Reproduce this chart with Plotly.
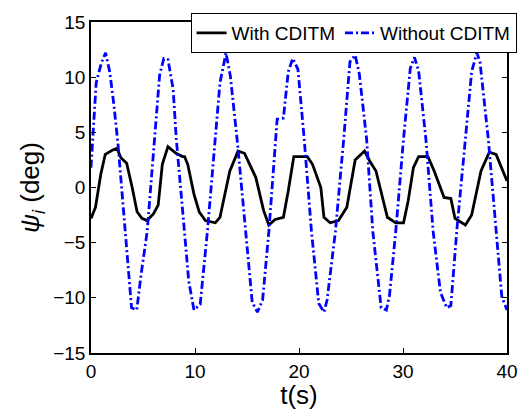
import plotly.graph_objects as go

t_with = [0, 0.43, 0.94, 1.37, 2.09, 2.5, 2.87, 3.43, 3.96, 4.43, 4.9, 5.37, 6.0, 6.46, 6.86, 7.4,
          8.17, 8.8, 9.0, 9.3, 9.9, 10.4, 11.0, 11.95, 12.4, 13.35, 14.14, 14.76, 15.85, 16.6, 17.1,
          17.7, 18.5, 18.97, 19.5, 20.8, 21.3, 22.1, 22.4, 23.0, 23.8, 24.6, 25.4, 26.3, 26.8, 27.4,
          28.5, 29.3, 30.05, 30.5, 31.0, 31.5, 32.4, 33.0, 33.95, 34.6, 35.0, 36.0, 36.6, 37.5,
          38.3, 38.95, 40.0]
psi_with = [-2.8, -1.8, 1.2, 3.0, 3.4, 3.55, 2.7, 2.2, 0.0, -2.2, -2.8, -3.0, -2.4, -1.6, 2.1, 3.7,
            3.1, 2.8, 2.8, 2.1, -0.6, -2.2, -3.0, -3.2, -2.7, 1.5, 3.3, 3.1, 0.9, -2.1, -3.4,
            -2.9, -2.7, -0.3, 2.8, 2.8, 2.1, 0.0, -2.7, -3.2, -3.0, -1.8, 2.5, 3.3, 2.4, 1.5,
            -2.7, -3.2, -3.2, -1.2, 1.8, 2.8, 2.8, 1.5, -0.9, -1.0, -2.8, -3.4, -2.5, 1.5,
            3.2, 3.0, 0.6]

t_without = [0, 0.5, 1.0, 1.4, 1.8, 2.2, 2.6, 3.0, 3.4, 3.9, 4.4, 4.8, 5.4, 6.1, 6.6, 7.0, 7.4,
             7.9, 8.2, 8.95, 9.4, 9.9, 10.5, 11.2, 11.95, 12.4, 12.98, 13.4, 14.1, 14.9, 15.5,
             16.0, 16.5, 17.1, 17.7, 17.9, 18.5, 18.97, 19.4, 19.9, 20.5, 21.2, 21.9, 22.4,
             22.7, 23.5, 24.3, 24.9, 25.4, 25.8, 26.5, 27.1, 27.9, 28.4, 28.7, 29.3, 30.05,
             30.7, 31.1, 31.5, 32.2, 32.9, 33.6, 34.2, 34.6, 35.2, 36.0, 36.6, 37.1, 37.4,
             38.2, 38.95, 39.5, 40.0]
psi_without = [1.8, 9.5, 11.3, 12.2, 10.5, 7.5, 3.9, -0.5, -5.5, -10.9, -11.1, -8.0, -4.0, 4.4,
               10.2, 11.7, 11.6, 8.9, 4.4, -3.6, -8.5, -11.1, -10.6, -3.9, 4.4, 9.5, 12.2, 10.1,
               3.9, -4.0, -10.4, -11.3, -10.2, -4.0, 4.4, 6.2, 6.3, 10.5, 11.7, 10.7, 4.4, -4.0,
               -10.5, -11.3, -10.2, -4.0, 4.4, 11.4, 12.0, 10.3, 4.4, -4.0, -10.9, -11.1, -9.8,
               -4.0, 4.4, 10.8, 11.8, 10.6, 4.4, -4.0, -9.5, -10.9, -10.7, -3.6, 4.4, 10.5, 12.2,
               11.4, 4.4, -4.0, -9.9, -11.1]

x_ticks = [0, 10, 20, 30, 40]
y_ticks = [-15, -10, -5, 0, 5, 10, 15]

FONT = "Liberation Sans, Arial, sans-serif"

fig = go.Figure()
fig.add_trace(go.Scatter(x=t_with, y=psi_with, mode="lines", name="With CDITM",
                         line=dict(color="black", width=2.8)))
fig.add_trace(go.Scatter(x=t_without, y=psi_without, mode="lines", name="Without CDITM",
                         line=dict(color="#0000ff", width=2.8, dash="8px,3px,2px,3px")))

axis_common = dict(showline=True, linecolor="black", linewidth=1.6, mirror="ticks",
                   ticks="inside", ticklen=5, tickcolor="black", tickwidth=1,
                   showgrid=False, zeroline=False,
                   tickfont=dict(family=FONT, size=19, color="black"))

fig.update_xaxes(range=[0, 40], tickvals=x_ticks,
                 title=dict(text="t(s)", font=dict(family=FONT, size=26, color="black"), standoff=0),
                 **axis_common)
fig.update_yaxes(range=[-15, 15], tickvals=y_ticks,
                 title=dict(text="<i>ψ</i><sub><i>i</i></sub> (deg)",
                            font=dict(family=FONT, size=26, color="black"), standoff=6),
                 **axis_common)

fig.update_layout(
    width=528, height=410,
    margin=dict(l=91, r=10, t=22, b=51),
    paper_bgcolor="white", plot_bgcolor="white",
    showlegend=True,
    legend=dict(orientation="h", x=1.023, xanchor="right", y=1.027, yanchor="top",
                bgcolor="white", bordercolor="black", borderwidth=1,
                font=dict(family=FONT, size=19, color="black"),
                itemwidth=30, tracegroupgap=0),
)

fig.write_html("out.html")
